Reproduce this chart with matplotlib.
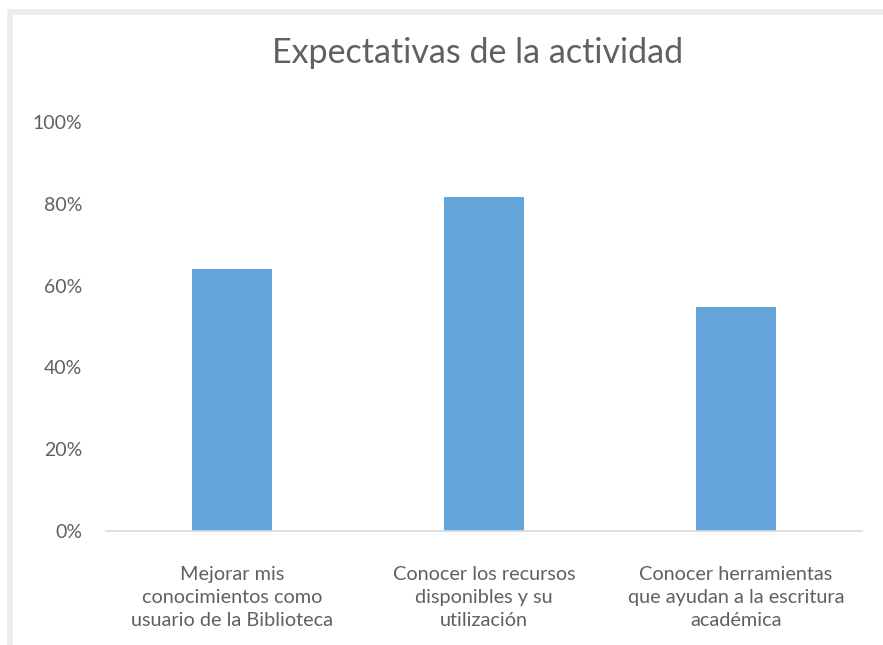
import matplotlib
matplotlib.use("Agg")
import matplotlib.pyplot as plt
from matplotlib.patches import Rectangle
from matplotlib.ticker import FuncFormatter

# Datos del gráfico
categorias = [
    "Mejorar mis\nconocimientos como\nusuario de la Biblioteca",
    "Conocer los recursos\ndisponibles y su\nutilización",
    "Conocer herramientas\nque ayudan a la escritura\nacadémica",
]
valores = [0.64, 0.817, 0.548]
ticks_y = [0, 0.2, 0.4, 0.6, 0.8, 1.0]
titulo = "Expectativas de la actividad"

plt.rcParams["font.family"] = ["Lato", "DejaVu Sans"]
gris_texto = "#606060"

fig = plt.figure(figsize=(8.83, 6.45), dpi=100)
ax = fig.add_axes([106 / 883, 114 / 645, 756 / 883, 409 / 645])

x = range(len(categorias))
ax.bar(x, valores, width=0.317, color="#64A6DB")

ax.set_xlim(-0.5, len(categorias) - 0.5)
ax.set_ylim(0, 1)
ax.set_yticks(ticks_y)
ax.yaxis.set_major_formatter(FuncFormatter(lambda v, p: f"{v * 100:.0f}%"))
ax.set_xticks(list(x))
ax.set_xticklabels(categorias, linespacing=1.45)

for s in ["top", "right", "left"]:
    ax.spines[s].set_visible(False)
ax.spines["bottom"].set_color("#D9D9D9")
ax.spines["bottom"].set_linewidth(1.2)

ax.tick_params(axis="y", length=0, pad=17, labelsize=14, labelcolor=gris_texto)
ax.tick_params(axis="x", length=0, pad=25, labelsize=14.3, labelcolor=gris_texto)

fig.text(0.541, 1 - 53 / 645, titulo, ha="center", va="center",
         fontsize=24.5, color=gris_texto)

# marco gris claro del gráfico
fig.patches.append(Rectangle((10 / 883, -0.05), 1.2, (645 - 12) / 645 + 0.05,
                             transform=fig.transFigure, fill=False,
                             edgecolor="#EBEBEB", linewidth=4))

fig.savefig("out.png", dpi=100)
